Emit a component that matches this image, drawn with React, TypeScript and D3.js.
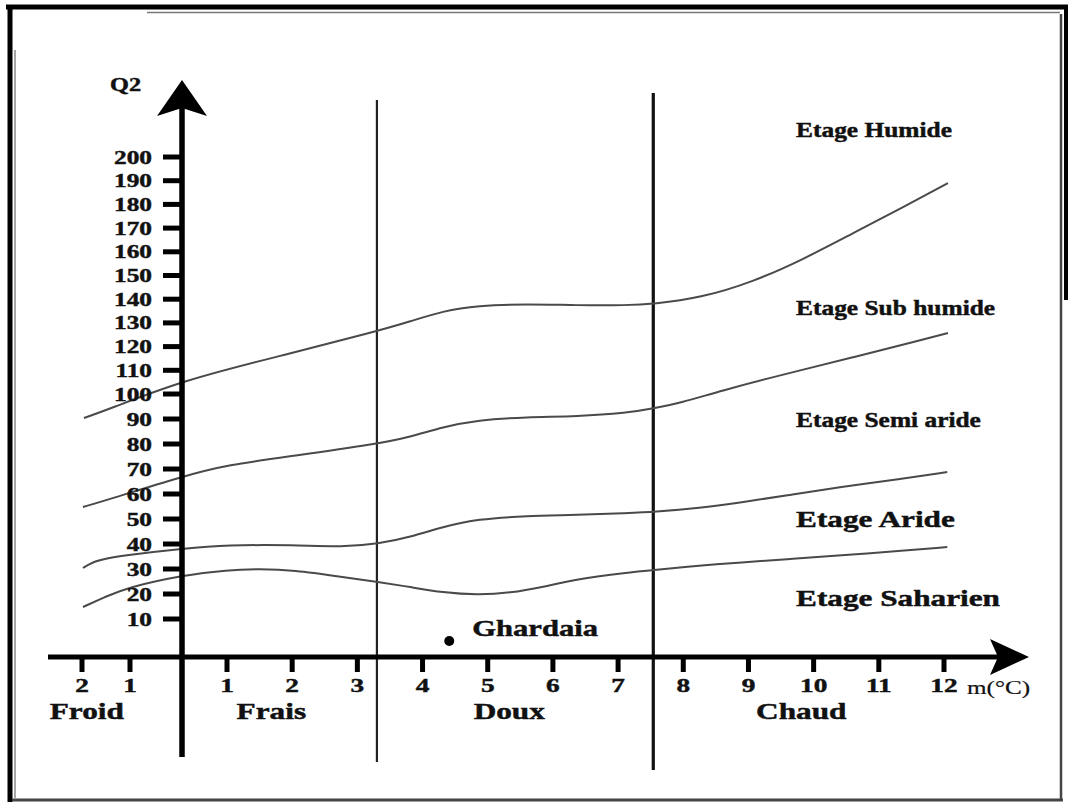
import React from "react";
import * as d3 from "d3";

// ---- Data (Emberger climagram) ----
const X_TICKS = [-2, -1, 1, 2, 3, 4, 5, 6, 7, 8, 9, 10, 11, 12];
const Y_TICKS = [10, 20, 30, 40, 50, 60, 70, 80, 90, 100, 110, 120, 130, 140, 150, 160, 170, 180, 190, 200];

// Limits between bioclimatic stages: [m (°C), Q2]
const LIMIT_HUMIDE: [number, number][] = [
  [-1.96, 90.4], [-1.5, 93.5], [0.04, 105.9], [1.81, 116], [3.32, 126.6], [3.81, 130.6], [4.31, 135],
  [4.84, 137.3], [5.6, 138], [6.37, 137.4], [7.14, 137.4], [7.54, 138], [8.26, 140.5],
  [9.07, 147.3], [9.84, 156.8], [10.6, 167.8], [11.37, 178.7], [12.06, 189],
];
const LIMIT_SUBHUMIDE: [number, number][] = [
  [-1.98, 54.8], [-1.5, 57.5], [0.04, 67.2], [1, 71.6], [2.01, 75.2], [3.3, 80], [3.81, 82.8], [4.31, 86.8],
  [4.84, 89.6], [5.6, 90.8], [6.37, 91], [7.14, 92.4], [7.54, 94.2], [7.95, 96.4],
  [8.56, 101.2], [9.58, 108.6], [10.6, 115.4], [11.63, 122.6], [12.06, 125.7],
];
const LIMIT_SEMIARIDE: [number, number][] = [
  [-1.98, 30.4], [-1.8, 32.6], [-1.5, 34.2], [-1.06, 35.6], [0.04, 38.2], [1, 39.6], [2.01, 39.6],
  [2.78, 38.8], [3.32, 40], [3.81, 42.8], [4.31, 46.8], [4.84, 50], [5.6, 51.2], [6.37, 51.6],
  [7.14, 52.4], [7.54, 52.8], [8.26, 54.4], [8.87, 56.6], [9.64, 59.6], [10.4, 62.8],
  [11.33, 66], [12.05, 68.8],
];
const LIMIT_ARIDE: [number, number][] = [
  [-1.98, 14.8], [-1.5, 19], [-1.06, 22.6], [0.04, 27.6], [1, 29.6], [1.51, 30], [2.01, 29.6], [2.78, 26.8],
  [3.32, 24.8], [3.81, 22.8], [4.31, 20.6], [4.84, 19.6], [5.34, 20.4], [5.85, 22.8],
  [6.37, 26], [7.14, 28.6], [7.54, 29.6], [8.26, 31.4], [8.87, 32.6], [9.64, 34],
  [10.4, 35.4], [11.33, 37.2], [12.05, 38.8],
];
const LIMITS = [LIMIT_HUMIDE, LIMIT_SUBHUMIDE, LIMIT_SEMIARIDE, LIMIT_ARIDE];

// Thermal boundaries (m, °C)
const BOUNDARIES = [3.3, 7.54];

// Stage names, anchored at (m, Q2)
const ETAGE_NAMES = ["Etage Humide", "Etage Sub humide", "Etage Semi aride", "Etage Aride", "Etage Saharien"];
const ETAGE_Q2 = [208.4, 133.3, 86.8, 46.8, 15.2];
const ETAGE_M = 9.73;

// Winter variants
const VARIANT_NAMES = ["Froid", "Frais", "Doux", "Chaud"];
const VARIANT_M = [-1.9, 1.68, 5.33, 9.81];

// Station
const STATION_NAME = "Ghardaia";
const STATION_M = 4.41;
const STATION_Q2 = 4.2;

const FONT = '"Liberation Serif", "Times New Roman", serif';

function SText(props: {
  x: number; y: number; sx: number; size: number; anchor?: string; weight?: string; children: any;
}) {
  const { x, y, sx, size, anchor = "start", weight = "bold", children } = props;
  return (
    <text
      transform={`translate(${x},${y}) scale(${sx},1)`}
      textAnchor={anchor as any}
      fontFamily={FONT}
      fontWeight={weight}
      fontSize={size}
      fill="#111"
      stroke="#111"
      strokeWidth={weight === "bold" ? 0.45 : 0.2}
    >
      {children}
    </text>
  );
}

export default function App() {
  const W = 1070;
  const H = 805;

  const x = d3.scaleLinear().domain([-2, -1, 0, 1, 12]).range([82, 130, 182, 227, 944]);
  const y = d3.scaleLinear().domain([0, 10, 100, 200]).range([657, 619, 394, 157]);

  const line = d3
    .line<[number, number]>()
    .x((d) => x(d[0]))
    .y((d) => y(d[1]))
    .curve(d3.curveBasis);

  const x0 = x(0);
  const y0 = y(0);

  return (
    <svg
      width={W}
      height={H}
      style={{ position: "absolute", left: 0, top: 0, background: "#fff" }}
    >
      <rect x={0} y={0} width={W} height={H} fill="#fff" />

      {/* frame */}
      <line x1={6} y1={7} x2={1068} y2={7} stroke="#000" strokeWidth={5} />
      <line x1={10} y1={5} x2={10} y2={802} stroke="#000" strokeWidth={5} />
      <line x1={1066} y1={5} x2={1066} y2={300} stroke="#000" strokeWidth={4} />
      <line x1={1061} y1={14} x2={1061} y2={801} stroke="#444" strokeWidth={2.5} />
      <line x1={12} y1={800} x2={1063} y2={800} stroke="#444" strokeWidth={3} />
      <line x1={147} y1={12.5} x2={1060} y2={12.5} stroke="#777" strokeWidth={1.5} />
      <line x1={15} y1={50} x2={15} y2={798} stroke="#888" strokeWidth={1.5} />

      {/* thermal boundaries */}
      <line x1={x(BOUNDARIES[0])} y1={100} x2={x(BOUNDARIES[0])} y2={762} stroke="#222" strokeWidth={2.2} />
      <line x1={x(BOUNDARIES[1])} y1={93} x2={x(BOUNDARIES[1])} y2={770} stroke="#111" strokeWidth={3.2} />

      {/* limit curves */}
      {LIMITS.map((pts, i) => (
        <path key={i} d={line(pts) || ""} fill="none" stroke="#4a4a4a" strokeWidth={2} />
      ))}

      {/* y axis */}
      <line x1={x0} y1={757} x2={x0} y2={105} stroke="#000" strokeWidth={5.5} />
      <path
        d={`M${x0},80 L${x0 + 25},116 L${x0},108 L${x0 - 25},116 Z`}
        fill="#000"
      />
      {Y_TICKS.map((t) => (
        <g key={t}>
          <line x1={x0 - 19} y1={y(t)} x2={x0} y2={y(t)} stroke="#000" strokeWidth={5} />
          <SText x={152} y={y(t) + 6.5} sx={1.3} size={19.5} anchor="end">
            {String(t)}
          </SText>
        </g>
      ))}
      <SText x={110} y={91} sx={1.35} size={18}>Q2</SText>

      {/* x axis */}
      <line x1={48} y1={y0} x2={1000} y2={y0} stroke="#000" strokeWidth={5} />
      <path
        d={`M1029,${y0} L990,${y0 - 18} L998,${y0} L990,${y0 + 18} Z`}
        fill="#000"
      />
      {X_TICKS.map((t) => (
        <g key={t}>
          <line x1={x(t)} y1={y0} x2={x(t)} y2={y0 + 15} stroke="#000" strokeWidth={5} />
          <SText x={x(t)} y={y0 + 35} sx={1.4} size={19.5} anchor="middle">
            {String(Math.abs(t))}
          </SText>
        </g>
      ))}
      <SText x={967} y={694} sx={1.4} size={18} weight="normal">m(°C)</SText>

      {/* variants */}
      {VARIANT_NAMES.map((n, i) => (
        <SText key={n} x={x(VARIANT_M[i])} y={719} sx={1.36} size={23} anchor="middle">
          {n}
        </SText>
      ))}

      {/* stages */}
      {ETAGE_NAMES.map((n, i) => {
        const big = i >= 3;
        return (
          <SText key={n} x={x(ETAGE_M)} y={y(ETAGE_Q2[i])} sx={big ? 1.33 : 1.24} size={big ? 23.5 : 20.5}>
            {n}
          </SText>
        );
      })}

      {/* station */}
      <circle cx={x(STATION_M)} cy={y(STATION_Q2)} r={5} fill="#000" />
      <SText x={x(STATION_M) + 23} y={636} sx={1.36} size={22.5}>{STATION_NAME}</SText>
    </svg>
  );
}
